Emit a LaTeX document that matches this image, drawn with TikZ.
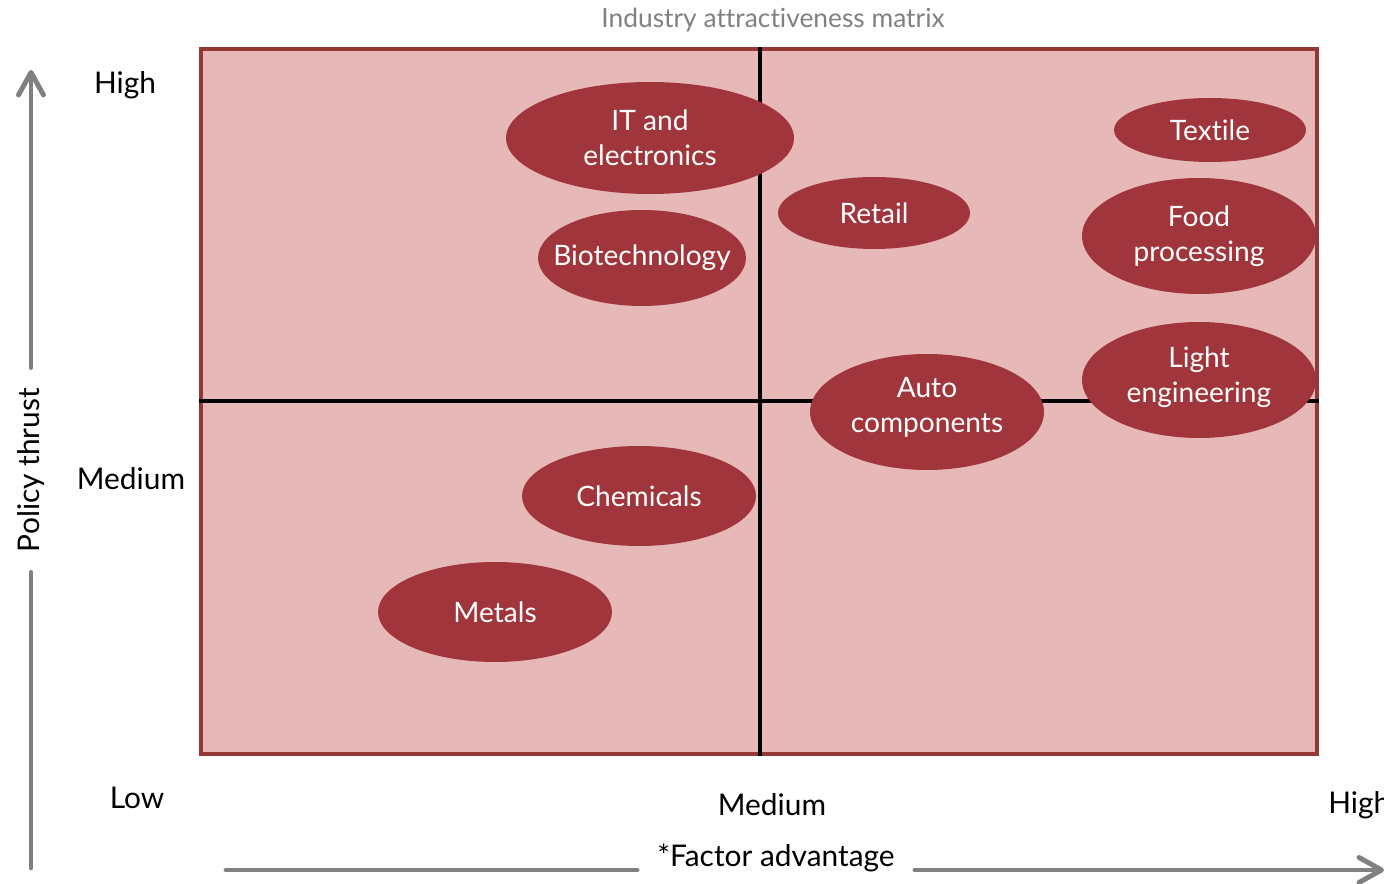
\documentclass[tikz,border=0pt]{standalone}
\usepackage{fontspec}
\setmainfont[Ligatures=NoCommon]{Lato}
\usetikzlibrary{shapes.geometric, arrows.meta, positioning}

\definecolor{matfill}{HTML}{E6B8B7}
\definecolor{matline}{HTML}{953735}
\definecolor{blobred}{HTML}{A0353B}
\definecolor{axisgray}{HTML}{808080}

\tikzset{
  blob/.style={ellipse, fill=blobred, inner sep=0pt},
  blobtext/.style={text=white, font=\fontsize{16}{20}\selectfont, align=center},
  levellabel/.style={font=\fontsize{17}{21}\selectfont},
  axisline/.style={axisgray, line width=2.8pt, line cap=round},
  axistip/.style={-{Straight Barb[length=4.5mm, width=5mm, round]}},
}

\begin{document}
\begin{tikzpicture}[x=0.02cm, y=-0.02cm]
    \useasboundingbox (0,0) rectangle (1384,884);

    % Ma tran
    \fill[matfill] (201,49) rectangle (1317,754);
    \draw[matline, line width=2.2pt] (201,49) rectangle (1317,754);
    \draw[line width=2.2pt] (760,47) -- (760,756);
    \draw[line width=2.2pt] (199,401) -- (1319,401);

    \node[font=\fontsize{15}{18}\selectfont, text=axisgray] (title) at (773,20) {Industry attractiveness matrix};

    % Cac nganh
    \node[blob, minimum width=5.76cm, minimum height=2.24cm, label={[blobtext]center:IT and\\electronics}] (itel) at (650,138) {};
    \node[blob, minimum width=4.16cm, minimum height=1.92cm, label={[blobtext]center:Biotechnology}] (biotech) at (642,258) {};
    \node[blob, minimum width=3.84cm, minimum height=1.44cm, label={[blobtext]center:Retail}] (retail) at (874,213) {};
    \node[blob, minimum width=3.84cm, minimum height=1.28cm, label={[blobtext]center:Textile}] (textile) at (1210,130) {};
    \node[blob, minimum width=4.68cm, minimum height=2.32cm, label={[blobtext]center:Food\\processing}] (food) at (1199,236) {};
    \node[blob, minimum width=4.68cm, minimum height=2.32cm, label={[blobtext, yshift=0.06cm]center:Light\\engineering}] (light) at (1199,380) {};
    \node[blob, minimum width=4.68cm, minimum height=2.32cm, label={[blobtext, yshift=0.1cm]center:Auto\\components}] (auto) at (927,412) {};
    \node[blob, minimum width=4.68cm, minimum height=2.0cm, label={[blobtext]center:Chemicals}] (chem) at (639,496) {};
    \node[blob, minimum width=4.68cm, minimum height=2.0cm, label={[blobtext]center:Metals}] (metals) at (495,612) {};

    % Muc do
    \node[levellabel] (yhigh) at (125,85) {High};
    \node[levellabel] (ymed) at (131,479) {Medium};
    \node[levellabel] (ylow) at (137,798) {Low};
    \node[levellabel] (xmed) at (772,805) {Medium};
    \node[levellabel, anchor=west, inner sep=0pt] (xhigh) at (1328,805) {High};

    % Truc
    \coordinate (ybot) at (31,868);
    \coordinate (ytop) at (31,70);
    \node[levellabel, rotate=90, inner xsep=0.4cm] (ylab) at (31,470) {Policy thrust};
    \draw[axisline] (ybot) -- (ylab.west);
    \draw[axisline, axistip] (ylab.east) -- (ytop);

    \coordinate (xbeg) at (226,870);
    \coordinate (xend) at (1384,870);
    \node[levellabel, inner xsep=0.4cm] (xlab) at (776,858) {*Factor advantage};
    \draw[axisline] (xbeg) -- (xbeg -| xlab.west);
    \draw[axisline, axistip] (xlab.east |- xend) -- (xend);
\end{tikzpicture}
\end{document}
